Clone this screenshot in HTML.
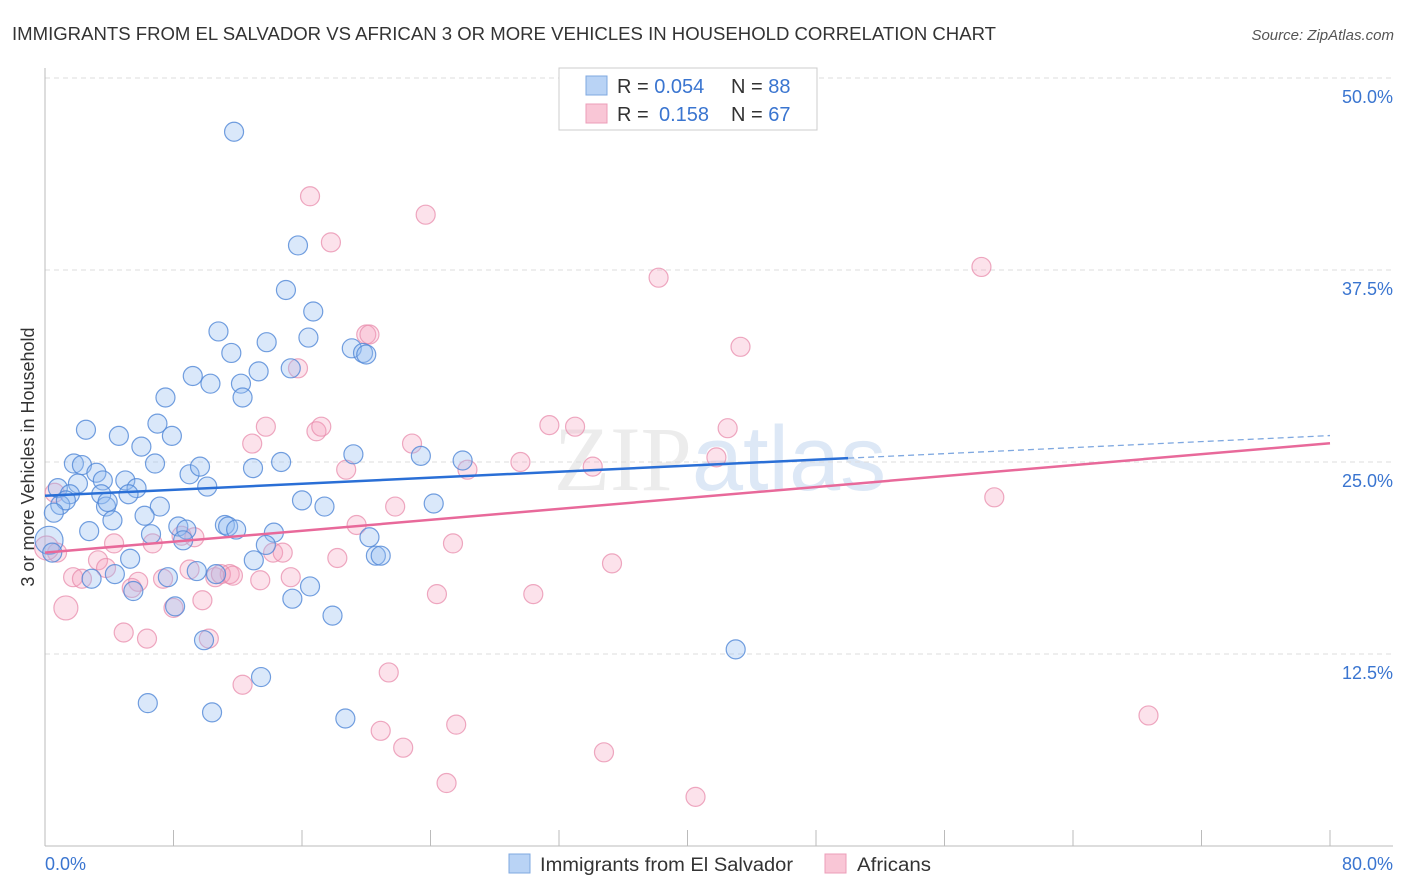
<!DOCTYPE html>
<html><head><meta charset="utf-8"><style>
body{margin:0;background:#fff;font-family:"Liberation Sans",sans-serif}
svg{display:block}
</style></head><body>
<svg id="chart" width="1406" height="892" xmlns="http://www.w3.org/2000/svg">
<text x="12" y="40" font-size="18" fill="#333" textLength="984" lengthAdjust="spacingAndGlyphs">IMMIGRANTS FROM EL SALVADOR VS AFRICAN 3 OR MORE VEHICLES IN HOUSEHOLD CORRELATION CHART</text>
<text x="1394" y="40" font-size="15" fill="#555" font-style="italic" text-anchor="end">Source: ZipAtlas.com</text>
<text x="720" y="490" font-size="92" fill="#ececec" text-anchor="middle" font-family="Liberation Serif,serif">ZIP<tspan fill="#dde8f6" font-family="Liberation Sans,sans-serif">atlas</tspan></text>
<g id="grid"></g>
<g id="axes"></g>
<g id="pts"></g>
<g id="trend"></g>
<text transform="translate(34,457) rotate(-90)" font-size="18" fill="#333" text-anchor="middle">3 or more Vehicles in Household</text>
<g>
<rect x="559" y="68" width="258" height="62" fill="#fff" stroke="#ccc"/>
<rect x="586" y="76" width="21" height="19" fill="#b9d3f5" stroke="#7fa8e0"/>
<rect x="586" y="104" width="21" height="19" fill="#f9c6d6" stroke="#ec9db8"/>
<text x="617" y="93" font-size="20" fill="#333">R = <tspan fill="#3a75d0">0.054</tspan><tspan x="731">N = </tspan><tspan fill="#3a75d0">88</tspan></text>
<text x="617" y="121" font-size="20" fill="#333">R = <tspan x="659" fill="#3a75d0">0.158</tspan><tspan x="731">N = </tspan><tspan fill="#3a75d0">67</tspan></text>
</g>
<g>
<rect x="509" y="854" width="21" height="19" fill="#b9d3f5" stroke="#7fa8e0"/>
<text x="540" y="871" font-size="19" fill="#333" textLength="253" lengthAdjust="spacingAndGlyphs">Immigrants from El Salvador</text>
<rect x="825" y="854" width="21" height="19" fill="#f9c6d6" stroke="#ec9db8"/>
<text x="857" y="871" font-size="19" fill="#333" textLength="74" lengthAdjust="spacingAndGlyphs">Africans</text>
</g>
</svg>
<script>
const blueX=[11.77,15.75,15.0,16.7,10.8,16.4,13.8,11.6,19.1,19.8,20.0,9.2,10.3,12.2,13.3,15.3,12.3,7.5,7.0,7.9,2.55,4.6,6.0,1.8,2.3,6.85,9.0,9.65,12.95,14.7,19.2,23.4,26.0,3.2,3.6,5.0,10.1,5.7,0.8,2.05,1.55,3.5,5.2,0.95,1.3,3.8,3.9,7.15,16.0,17.4,24.2,0.55,4.2,6.2,2.75,8.3,8.8,6.6,11.2,11.4,11.9,14.25,8.6,20.2,13.75,20.6,20.9,0.25,0.45,5.3,13.0,4.35,2.9,7.65,9.45,10.65,16.5,5.5,15.4,8.1,17.9,9.9,43.0,13.45,6.4,10.4,18.7];
const blueY=[46.5,39.1,36.2,34.8,33.5,33.1,32.8,32.1,32.4,32.1,32.0,30.6,30.1,30.1,30.9,31.1,29.2,29.2,27.5,26.7,27.1,26.7,26.0,24.9,24.8,24.9,24.2,24.7,24.6,25.0,25.5,25.4,25.1,24.3,23.8,23.8,23.4,23.3,23.3,23.6,22.9,22.9,22.9,22.2,22.5,22.1,22.4,22.1,22.5,22.1,22.3,21.7,21.2,21.5,20.5,20.8,20.6,20.3,20.9,20.8,20.6,20.4,19.9,20.1,19.6,18.9,18.9,19.9,19.1,18.7,18.6,17.7,17.4,17.5,17.9,17.7,16.9,16.6,16.1,15.6,15.0,13.4,12.8,11.0,9.3,8.7,8.3];
const pinkX=[16.5,23.7,17.8,38.2,58.3,20.0,20.2,43.3,15.75,13.75,16.9,17.2,31.4,33.0,42.5,22.85,12.9,18.75,26.3,29.6,34.1,41.8,59.1,0.6,21.8,19.4,0.75,0.1,25.4,6.7,4.3,9.3,8.5,14.2,18.2,14.8,3.3,3.8,35.3,1.75,2.3,5.8,7.35,11.5,13.4,15.3,10.6,9.0,10.95,11.7,5.4,24.4,30.4,9.8,1.3,8.0,4.9,6.35,10.2,21.4,12.3,25.6,20.9,22.3,34.8,25.0,68.7,40.5];
const pinkY=[42.3,41.1,39.3,37.0,37.7,33.3,33.3,32.5,31.1,27.3,27.0,27.3,27.4,27.3,27.2,26.2,26.2,24.5,24.5,25.0,24.7,25.3,22.7,23.0,22.1,20.9,19.1,19.4,19.7,19.7,19.7,20.1,20.2,19.1,18.75,19.1,18.6,18.1,18.4,17.5,17.4,17.2,17.4,17.7,17.3,17.5,17.5,18.0,17.7,17.6,16.8,16.4,16.4,16.0,15.5,15.5,13.9,13.5,13.5,11.3,10.5,7.9,7.5,6.4,6.1,4.1,8.5,3.2];
const blueBig=[67];
const pinkBig=[54,27];
const trendIntercepts=[22.8,19.1];
const trendSlopes=[0.049,0.089];
const yTicks=[12.5,25.0,37.5,50.0];
const xTickLabels=["0.0%","80.0%"];

const NS="http://www.w3.org/2000/svg";
const X=v=>45+v*1285/80, Y=v=>846-v*768/50;
function mk(tag,attrs,parent){const e=document.createElementNS(NS,tag);for(const k in attrs)e.setAttribute(k,attrs[k]);parent.appendChild(e);return e;}
const grid=document.getElementById('grid'),axes=document.getElementById('axes'),pts=document.getElementById('pts'),trend=document.getElementById('trend');
yTicks.forEach(t=>{
 const l=mk('line',{x1:45,x2:1393,y1:Y(t),y2:Y(t),stroke:'#ddd','stroke-dasharray':'5,4'},grid);
 
 
 const tx=mk('text',{x:1393,y:Y(t)+25,'font-size':18,fill:'#3a75d0','text-anchor':'end'},grid);
 tx.textContent=t.toFixed(1)+'%';
 
 
});
mk('line',{x1:45,x2:45,y1:68,y2:846,stroke:'#bbb'},axes);
mk('line',{x1:45,x2:1393,y1:846,y2:846,stroke:'#bbb'},axes);
for(let i=1;i<=10;i++){mk('line',{x1:X(i*8),x2:X(i*8),y1:830,y2:846,stroke:'#bbb'},axes);}
const xl0=mk('text',{x:45,y:870,'font-size':18,fill:'#3a75d0'},axes);xl0.textContent=xTickLabels[0];


const xl1=mk('text',{x:1393,y:870,'font-size':18,fill:'#3a75d0','text-anchor':'end'},axes);xl1.textContent=xTickLabels[1];


pinkX.forEach((v,i)=>{
 const c=mk('circle',{cx:X(v),cy:Y(pinkY[i]),r:pinkBig.includes(i)?12:9.5,fill:'rgba(245,160,190,0.3)',stroke:'rgba(232,140,172,0.75)','stroke-width':1.2},pts);
 
 
});
blueX.forEach((v,i)=>{
 const c=mk('circle',{cx:X(v),cy:Y(blueY[i]),r:blueBig.includes(i)?14:9.5,fill:'rgba(150,190,240,0.35)',stroke:'rgba(80,135,215,0.8)','stroke-width':1.2},pts);
 
 
});
const b1=mk('line',{x1:X(0),y1:Y(trendIntercepts[0]),x2:X(50),y2:Y(trendIntercepts[0]+trendSlopes[0]*50),stroke:'#2a6fd6','stroke-width':2.5},trend);


const b2=mk('line',{x1:X(50),y1:Y(trendIntercepts[0]+trendSlopes[0]*50),x2:X(80),y2:Y(trendIntercepts[0]+trendSlopes[0]*80),stroke:'#7fa8e0','stroke-width':1.3,'stroke-dasharray':'6,4'},trend);


const p1=mk('line',{x1:X(0),y1:Y(trendIntercepts[1]),x2:X(80),y2:Y(trendIntercepts[1]+trendSlopes[1]*80),stroke:'#e8699a','stroke-width':2.5},trend);


</script>
</body></html>
